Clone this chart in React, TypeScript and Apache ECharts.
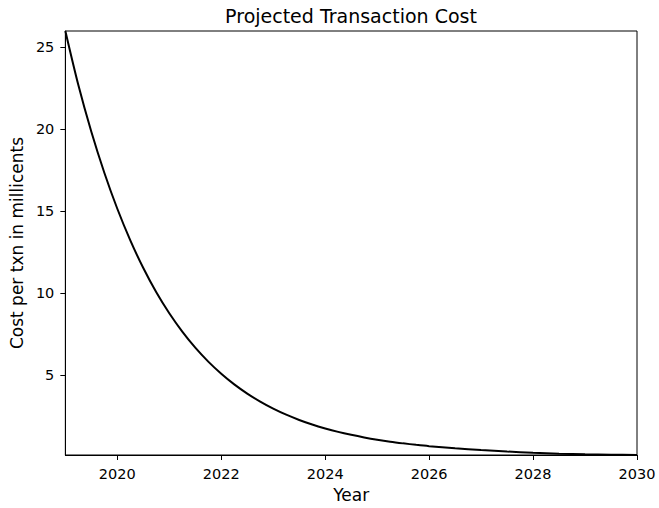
import React, { useEffect, useRef } from "react";
import * as echarts from "echarts";

// Projected cost per transaction (millicents) by year
const years: number[] = [
  2019.0, 2019.25, 2019.5, 2019.75, 2020.0, 2020.25, 2020.5, 2020.75,
  2021.0, 2021.25, 2021.5, 2021.75, 2022.0, 2022.25, 2022.5, 2022.75,
  2023.0, 2023.25, 2023.5, 2023.75, 2024.0, 2024.25, 2024.5, 2024.75,
  2025.0, 2025.25, 2025.5, 2025.75, 2026.0, 2026.5, 2027.0, 2027.5,
  2028.0, 2028.5, 2029.0, 2029.5, 2030.0,
];
const cost: number[] = [
  26.0, 22.7, 19.85, 17.35, 15.15, 13.22, 11.53, 10.05,
  8.77, 7.65, 6.67, 5.82, 5.08, 4.43, 3.87, 3.38,
  2.95, 2.58, 2.26, 1.98, 1.74, 1.53, 1.35, 1.19,
  1.05, 0.93, 0.83, 0.74, 0.66, 0.53, 0.42, 0.33,
  0.26, 0.2, 0.16, 0.14, 0.12,
];
const xTicks: number[] = [2020, 2022, 2024, 2026, 2028, 2030];
const yTicks: number[] = [5, 10, 15, 20, 25];

const FONT = "DejaVu Sans";

export default function App() {
  const ref = useRef<HTMLDivElement>(null);

  useEffect(() => {
    if (!ref.current) return;
    const chart = echarts.init(ref.current, undefined, { renderer: "svg" });
    const points = years.map((y, i) => [y, cost[i]]);
    chart.setOption({
      animation: false,
      backgroundColor: "#fff",
      textStyle: { fontFamily: FONT, color: "#000" },
      title: {
        text: "Projected Transaction Cost",
        left: 351,
        top: 6,
        padding: 0,
        textAlign: "center",
        textStyle: { fontFamily: FONT, fontSize: 19, fontWeight: "normal", color: "#000" },
      },
      grid: {
        left: 65,
        right: 22,
        top: 31,
        bottom: 51,
        show: true,
        borderColor: "#000",
        borderWidth: 1,
        backgroundColor: "transparent",
      },
      xAxis: {
        type: "value",
        min: 2019,
        max: 2030,
        name: "Year",
        nameLocation: "middle",
        nameGap: 31,
        nameTextStyle: { fontFamily: FONT, fontSize: 17, color: "#000" },
        axisLine: { show: true, lineStyle: { color: "#000", width: 1 } },
        axisTick: { show: true, length: 5, inside: false, customValues: xTicks, lineStyle: { color: "#000" } },
        axisLabel: {
          customValues: xTicks,
          margin: 11,
          fontFamily: FONT,
          fontSize: 14.5,
          color: "#000",
          formatter: (v: number) => String(v),
        },
        splitLine: { show: false },
      },
      yAxis: {
        type: "value",
        min: Math.min(...cost),
        max: 26,
        name: "Cost per txn in millicents",
        nameLocation: "middle",
        nameRotate: 90,
        nameGap: 39,
        nameTextStyle: { fontFamily: FONT, fontSize: 17, color: "#000" },
        axisLine: { show: true, lineStyle: { color: "#000", width: 1 } },
        axisTick: { show: true, length: 5, inside: false, customValues: yTicks, lineStyle: { color: "#000" } },
        axisLabel: {
          customValues: yTicks,
          margin: 11,
          fontFamily: FONT,
          fontSize: 14.5,
          color: "#000",
          formatter: (v: number) => String(v),
        },
        splitLine: { show: false },
      },
      series: [
        {
          type: "line",
          data: points,
          showSymbol: false,
          smooth: 0.3,
          lineStyle: { color: "#000", width: 2 },
          clip: true,
        },
      ],
    });
    return () => chart.dispose();
  }, []);

  return (
    <div
      ref={ref}
      style={{ position: "absolute", left: 0, top: 0, width: 659, height: 508 }}
    />
  );
}
